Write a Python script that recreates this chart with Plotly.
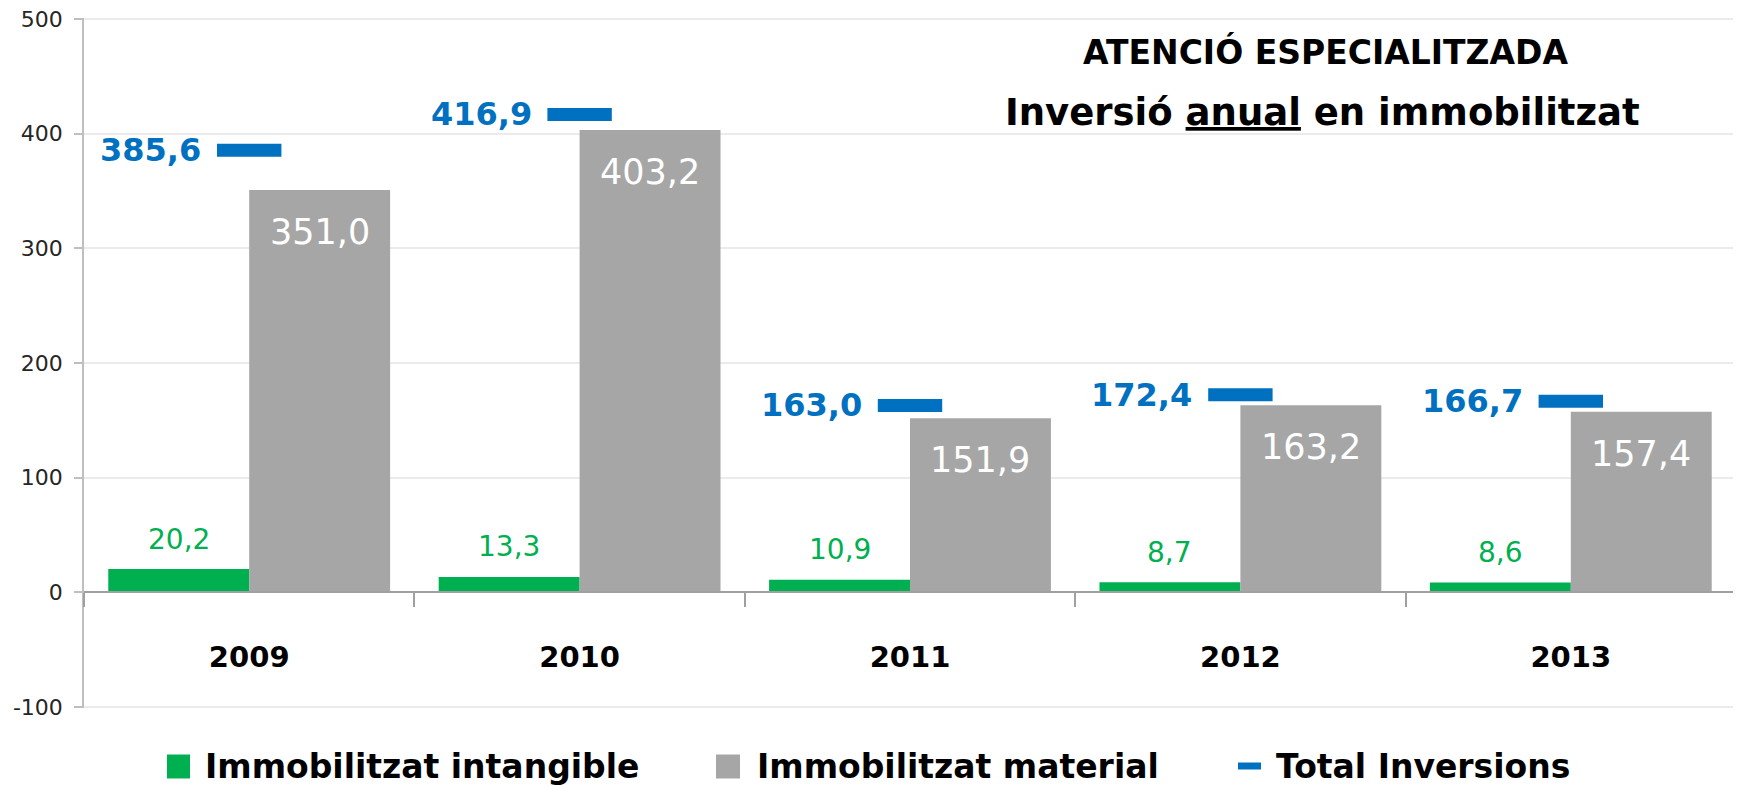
import plotly.graph_objects as go

# ---- data ----
years = ["2009", "2010", "2011", "2012", "2013"]
intangible = [20.2, 13.3, 10.9, 8.7, 8.6]
material = [351.0, 403.2, 151.9, 163.2, 157.4]
total = [385.6, 416.9, 163.0, 172.4, 166.7]
series_names = ["Immobilitzat intangible", "Immobilitzat material", "Total Inversions"]
ytick_vals = [-100, 0, 100, 200, 300, 400, 500]
ytick_text = ["-100", "0", "100", "200", "300", "400", "500"]
title_line1 = "ATENCIÓ ESPECIALITZADA"
title_line2 = "Inversió <span style='text-decoration:underline'>anual</span> en immobilitzat"

def fmt(v):
    return f"{v:.1f}".replace(".", ",")

# ---- style ----
GREEN = "#00B050"
GRAY = "#A6A6A6"
BLUE = "#0070C0"
FONT = "DejaVu Sans"
OFF = 8  # page body margin
W, H = 1741 - OFF, 786 - OFF
L, R, T, B = 76, 5, 10, 78
X0, X1, Y0, Y1 = L, W - R, T, H - B
YMIN, YMAX = -101, 501

def px_x(x):
    return (x - OFF - X0) / (X1 - X0)

def px_y(y):
    return (Y1 - (y - OFF)) / (Y1 - Y0)

fig = go.Figure()
fig.add_trace(go.Bar(x=years, y=intangible, name=series_names[0],
                     marker=dict(color=GREEN, line=dict(width=0)), showlegend=False))
fig.add_trace(go.Bar(x=years, y=material, name=series_names[1],
                     marker=dict(color=GRAY, line=dict(width=0)), showlegend=False))
fig.add_trace(go.Scatter(x=years, y=total, name=series_names[2], mode="markers",
                         marker=dict(symbol="line-ew", size=46, color=BLUE,
                                     line=dict(color=BLUE, width=13)),
                         showlegend=False))

annotations = []
BARGAP = 0.147
cat_w = (X1 - X0) / len(years)
bar_w = cat_w * (1 - BARGAP) / 2
for i, (gi, ma, to) in enumerate(zip(intangible, material, total)):
    # x given as category index on the category axis
    annotations.append(dict(x=i, y=gi, xref="x", yref="y", text=fmt(gi), showarrow=False,
                            xshift=-bar_w / 2, yshift=30, yanchor="middle",
                            font=dict(family=FONT, size=28, color=GREEN)))
    annotations.append(dict(x=i, y=ma, xref="x", yref="y", text=fmt(ma), showarrow=False,
                            xshift=bar_w / 2, yshift=-42, yanchor="middle",
                            font=dict(family=FONT, size=35, color="white")))
    annotations.append(dict(x=i, y=to, xref="x", yref="y", text="<b>" + fmt(to) + "</b>",
                            showarrow=False, xanchor="right", xshift=-46, yanchor="middle",
                            font=dict(family=FONT, size=32, color=BLUE)))

# title
annotations.append(dict(x=px_x(1325), y=px_y(52), xref="paper", yref="paper",
                        text="<b>" + title_line1 + "</b>", showarrow=False,
                        xanchor="center", yanchor="middle",
                        font=dict(family=FONT, size=33, color="black")))
annotations.append(dict(x=px_x(1322), y=px_y(112), xref="paper", yref="paper",
                        text="<b>" + title_line2 + "</b>", showarrow=False,
                        xanchor="center", yanchor="middle",
                        font=dict(family=FONT, size=37, color="black")))

# custom legend
legend_y = 766.5
leg_text_x = [203, 755, 1274]
for name, tx in zip(series_names, leg_text_x):
    annotations.append(dict(x=px_x(tx), y=px_y(legend_y), xref="paper", yref="paper",
                            text="<b>" + name + "</b>", showarrow=False,
                            xanchor="left", yanchor="middle",
                            font=dict(family=FONT, size=33, color="black")))
shapes = [
    dict(type="rect", xref="paper", yref="paper", x0=px_x(167), x1=px_x(190),
         y0=px_y(754.5), y1=px_y(778.5), fillcolor=GREEN, line=dict(width=0)),
    dict(type="rect", xref="paper", yref="paper", x0=px_x(716), x1=px_x(740),
         y0=px_y(754.5), y1=px_y(778.5), fillcolor=GRAY, line=dict(width=0)),
    dict(type="rect", xref="paper", yref="paper", x0=px_x(1238), x1=px_x(1261),
         y0=px_y(762.5), y1=px_y(769.5), fillcolor=BLUE, line=dict(width=0)),
]

fig.update_layout(
    template="none",
    width=W, height=H,
    margin=dict(l=L, r=R, t=T, b=B, pad=0),
    paper_bgcolor="white", plot_bgcolor="white",
    barmode="group", bargap=BARGAP, bargroupgap=0,
    showlegend=False,
    annotations=annotations,
    shapes=shapes,
    xaxis=dict(
        type="category", categoryorder="array", categoryarray=years,
        range=[-0.5, len(years) - 0.5], autorange=False,
        anchor="free", position=(0 - YMIN) / (YMAX - YMIN),
        showline=True, linecolor="#A0A0A0", linewidth=1.5,
        showgrid=False, zeroline=False,
        ticks="outside", tickson="boundaries", ticklen=14, tickcolor="#A0A0A0", tickwidth=1.5,
        tickfont=dict(family=FONT, size=29, color="black"),
        tickprefix="<b>", ticksuffix="</b>", tickangle=0,
        ticklabelstandoff=39,
        automargin=False,
    ),
    yaxis=dict(
        range=[YMIN, YMAX], autorange=False,
        tickvals=ytick_vals, ticktext=ytick_text,
        showline=True, linecolor="#BFBFBF", linewidth=1.5,
        showgrid=True, gridcolor="#EBEBEB", gridwidth=1.5,
        zeroline=False,
        ticks="outside", ticklen=8, tickcolor="#BFBFBF", tickwidth=1.5,
        tickfont=dict(family=FONT, size=22, color="#262626"),
        ticklabelstandoff=7, ticklabeloverflow="allow",
        automargin=False,
    ),
)

fig.write_html("out.html")
